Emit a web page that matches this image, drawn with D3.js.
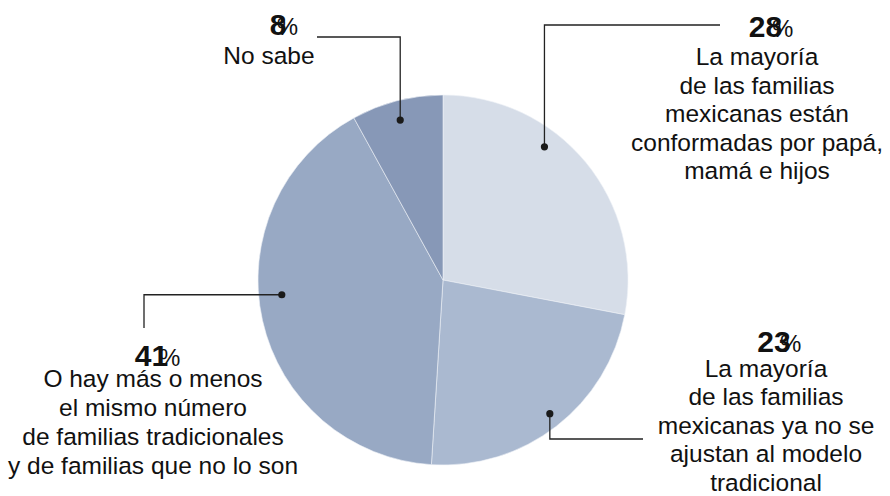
<!DOCTYPE html>
<html><head><meta charset="utf-8">
<script src="https://cdn.jsdelivr.net/npm/d3@7"></script>
<style>
html,body{margin:0;padding:0;background:#fff;}
svg{display:block;font-family:"Liberation Sans",Arial,sans-serif;}
</style></head>
<body>
<svg id="chart" width="890" height="496"></svg>
<script>
// ---- data ----
const categories = ["tradicional", "no tradicional", "mitad", "no sabe"];
const values = [28, 23, 41, 8];
const labelLines = [
  ["La mayoría", "de las familias", "mexicanas están", "conformadas por papá,", "mamá e hijos"],
  ["La mayoría", "de las familias", "mexicanas ya no se", "ajustan al modelo", "tradicional"],
  ["O hay más o menos", "el mismo número", "de familias tradicionales", "y de familias que no lo son"],
  ["No sabe"]
];
const colors = ["#d6dde8", "#aab9d0", "#98a9c4", "#8798b7"];

// ---- layout (positions, not data) ----
const cx = 443, cy = 280, R = 185;
const layout = [
  {lx: 757, numY: 37, dxNum: 8.5, dxPct: 15, lineY: 65, lh: 28.5, dotF: 0.37, dotR: 0.905, elbow: [null, 25], end: [720, 25]},
  {lx: 766, numY: 352, dxNum: 8, dxPct: 14, lineY: 377, lh: 28.4, dotF: 0.49, dotR: 0.925, elbow: [null, 439], end: [643, 439]},
  {lx: 153, numY: 366, dxNum: -1.5, dxPct: 6, lineY: 387, lh: 29, dotF: 0.55, dotR: 0.875, elbow: [144, null], end: [144, 328]},
  {lx: 269, numY: 35, dxNum: 9, dxPct: 7.7, lineY: 63.5, lh: 28.5, dotF: 0.48, dotR: 0.895, elbow: [null, 37], end: [317, 37]}
];

const svg = d3.select("#chart");
const g = svg.append("g").attr("transform", `translate(${cx},${cy})`);

const pie = d3.pie().sort(null).value(d => d)(values);
const arc = d3.arc().innerRadius(0).outerRadius(R);

g.selectAll("path.slice").data(pie).join("path")
  .attr("class", "slice")
  .attr("d", arc)
  .attr("fill", (d, i) => colors[i])
  .attr("stroke", "#eef1f6")
  .attr("stroke-width", 0.6);

const line = d3.line();
pie.forEach((d, i) => {
  const L = layout[i];
  const a = d.startAngle + (d.endAngle - d.startAngle) * L.dotF;
  const px = cx + Math.sin(a) * R * L.dotR;
  const py = cy - Math.cos(a) * R * L.dotR;
  const ex = L.elbow[0] === null ? px : L.elbow[0];
  const ey = L.elbow[1] === null ? py : L.elbow[1];
  svg.append("path")
    .attr("d", line([[px, py], [ex, ey], L.end]))
    .attr("fill", "none").attr("stroke", "#222").attr("stroke-width", 1.3);
  svg.append("circle").attr("cx", px).attr("cy", py).attr("r", 3.6).attr("fill", "#1a1a1a");

  svg.append("text")
    .attr("x", L.lx + L.dxNum).attr("y", L.numY)
    .attr("text-anchor", "middle")
    .attr("font-size", 30).attr("font-weight", "bold").attr("fill", "#111")
    .text(values[i]);
  svg.append("text")
    .attr("x", L.lx + L.dxPct).attr("y", L.numY)
    .attr("text-anchor", "start")
    .attr("font-size", 24).attr("fill", "#111")
    .text("%");
  const t = svg.append("text")
    .attr("text-anchor", "middle")
    .attr("font-size", 24.5).attr("fill", "#111");
  labelLines[i].forEach((s, k) => {
    t.append("tspan").attr("x", L.lx).attr("y", L.lineY + k * L.lh).text(s);
  });
});
</script>
</body></html>
